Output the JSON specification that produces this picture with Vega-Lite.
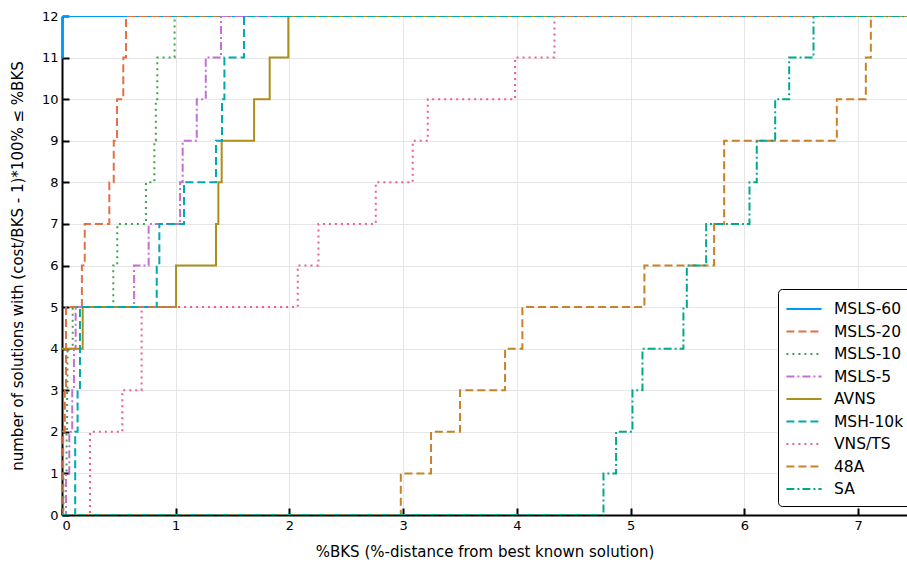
{
  "$schema": "https://vega.github.io/schema/vega-lite/v6.json",
  "autosize": {"type": "none"},
  "padding": {"left": 62, "top": 16, "right": 0, "bottom": 47},
  "width": 845,
  "height": 499,
  "background": "white",
  "config": {
    "font": "DejaVu Sans",
    "view": {"stroke": null},
    "axis": {
      "domainColor": "black",
      "domainWidth": 2,
      "tickColor": "black",
      "tickWidth": 2,
      "tickSize": -7,
      "gridColor": "#e6e6e6",
      "gridWidth": 1,
      "labelFontSize": 13,
      "labelColor": "black",
      "titleFontSize": 15,
      "titleFontWeight": "normal",
      "titleColor": "black"
    }
  },
  "data": {
    "values": [
      {"s": "MSLS-60", "x": 0, "y": 11},
      {"s": "MSLS-60", "x": 0.004, "y": 12},
      {"s": "MSLS-60", "x": 7.43, "y": 12},

      {"s": "MSLS-20", "x": 0, "y": 0},
      {"s": "MSLS-20", "x": 0.01, "y": 2},
      {"s": "MSLS-20", "x": 0.025, "y": 3},
      {"s": "MSLS-20", "x": 0.035, "y": 5},
      {"s": "MSLS-20", "x": 0.175, "y": 6},
      {"s": "MSLS-20", "x": 0.2, "y": 7},
      {"s": "MSLS-20", "x": 0.416, "y": 8},
      {"s": "MSLS-20", "x": 0.455, "y": 9},
      {"s": "MSLS-20", "x": 0.484, "y": 10},
      {"s": "MSLS-20", "x": 0.539, "y": 11},
      {"s": "MSLS-20", "x": 0.563, "y": 12},
      {"s": "MSLS-20", "x": 7.43, "y": 12},

      {"s": "MSLS-10", "x": 0, "y": 0},
      {"s": "MSLS-10", "x": 0.012, "y": 1},
      {"s": "MSLS-10", "x": 0.04, "y": 2},
      {"s": "MSLS-10", "x": 0.045, "y": 3},
      {"s": "MSLS-10", "x": 0.048, "y": 4},
      {"s": "MSLS-10", "x": 0.094, "y": 5},
      {"s": "MSLS-10", "x": 0.451, "y": 6},
      {"s": "MSLS-10", "x": 0.486, "y": 7},
      {"s": "MSLS-10", "x": 0.738, "y": 8},
      {"s": "MSLS-10", "x": 0.812, "y": 9},
      {"s": "MSLS-10", "x": 0.825, "y": 10},
      {"s": "MSLS-10", "x": 0.838, "y": 11},
      {"s": "MSLS-10", "x": 0.99, "y": 12},
      {"s": "MSLS-10", "x": 7.43, "y": 12},

      {"s": "MSLS-5", "x": 0, "y": 0},
      {"s": "MSLS-5", "x": 0.035, "y": 1},
      {"s": "MSLS-5", "x": 0.064, "y": 2},
      {"s": "MSLS-5", "x": 0.09, "y": 3},
      {"s": "MSLS-5", "x": 0.105, "y": 4},
      {"s": "MSLS-5", "x": 0.12, "y": 5},
      {"s": "MSLS-5", "x": 0.634, "y": 6},
      {"s": "MSLS-5", "x": 0.762, "y": 7},
      {"s": "MSLS-5", "x": 1.038, "y": 8},
      {"s": "MSLS-5", "x": 1.061, "y": 9},
      {"s": "MSLS-5", "x": 1.185, "y": 10},
      {"s": "MSLS-5", "x": 1.264, "y": 11},
      {"s": "MSLS-5", "x": 1.398, "y": 12},
      {"s": "MSLS-5", "x": 7.43, "y": 12},

      {"s": "AVNS", "x": 0, "y": 4},
      {"s": "AVNS", "x": 0.182, "y": 5},
      {"s": "AVNS", "x": 1.003, "y": 6},
      {"s": "AVNS", "x": 1.354, "y": 7},
      {"s": "AVNS", "x": 1.375, "y": 8},
      {"s": "AVNS", "x": 1.404, "y": 9},
      {"s": "AVNS", "x": 1.689, "y": 10},
      {"s": "AVNS", "x": 1.826, "y": 11},
      {"s": "AVNS", "x": 1.99, "y": 12},
      {"s": "AVNS", "x": 7.43, "y": 12},

      {"s": "MSH-10k", "x": 0, "y": 0},
      {"s": "MSH-10k", "x": 0.116, "y": 2},
      {"s": "MSH-10k", "x": 0.137, "y": 3},
      {"s": "MSH-10k", "x": 0.158, "y": 5},
      {"s": "MSH-10k", "x": 0.833, "y": 6},
      {"s": "MSH-10k", "x": 0.856, "y": 7},
      {"s": "MSH-10k", "x": 1.073, "y": 8},
      {"s": "MSH-10k", "x": 1.354, "y": 9},
      {"s": "MSH-10k", "x": 1.407, "y": 10},
      {"s": "MSH-10k", "x": 1.428, "y": 11},
      {"s": "MSH-10k", "x": 1.6, "y": 12},
      {"s": "MSH-10k", "x": 7.43, "y": 12},

      {"s": "VNS/TS", "x": 0, "y": 0},
      {"s": "VNS/TS", "x": 0.246, "y": 2},
      {"s": "VNS/TS", "x": 0.53, "y": 3},
      {"s": "VNS/TS", "x": 0.7, "y": 5},
      {"s": "VNS/TS", "x": 2.073, "y": 6},
      {"s": "VNS/TS", "x": 2.255, "y": 7},
      {"s": "VNS/TS", "x": 2.759, "y": 8},
      {"s": "VNS/TS", "x": 3.084, "y": 9},
      {"s": "VNS/TS", "x": 3.216, "y": 10},
      {"s": "VNS/TS", "x": 3.984, "y": 11},
      {"s": "VNS/TS", "x": 4.33, "y": 12},
      {"s": "VNS/TS", "x": 7.43, "y": 12},

      {"s": "48A", "x": 0, "y": 0},
      {"s": "48A", "x": 2.979, "y": 1},
      {"s": "48A", "x": 3.245, "y": 2},
      {"s": "48A", "x": 3.5, "y": 3},
      {"s": "48A", "x": 3.896, "y": 4},
      {"s": "48A", "x": 4.048, "y": 5},
      {"s": "48A", "x": 5.121, "y": 6},
      {"s": "48A", "x": 5.734, "y": 7},
      {"s": "48A", "x": 5.822, "y": 9},
      {"s": "48A", "x": 6.813, "y": 10},
      {"s": "48A", "x": 7.068, "y": 11},
      {"s": "48A", "x": 7.112, "y": 12},
      {"s": "48A", "x": 7.43, "y": 12},

      {"s": "SA", "x": 0, "y": 0},
      {"s": "SA", "x": 4.761, "y": 1},
      {"s": "SA", "x": 4.872, "y": 2},
      {"s": "SA", "x": 5.016, "y": 3},
      {"s": "SA", "x": 5.104, "y": 4},
      {"s": "SA", "x": 5.464, "y": 5},
      {"s": "SA", "x": 5.494, "y": 6},
      {"s": "SA", "x": 5.664, "y": 7},
      {"s": "SA", "x": 6.045, "y": 8},
      {"s": "SA", "x": 6.109, "y": 9},
      {"s": "SA", "x": 6.271, "y": 10},
      {"s": "SA", "x": 6.394, "y": 11},
      {"s": "SA", "x": 6.608, "y": 12},
      {"s": "SA", "x": 7.43, "y": 12}
    ]
  },
  "mark": {"type": "line", "interpolate": "step-after", "strokeWidth": 2, "clip": true},
  "encoding": {
    "x": {
      "field": "x", "type": "quantitative",
      "scale": {"domain": [0, 7.43], "nice": false, "zero": false},
      "axis": {"values": [0, 1, 2, 3, 4, 5, 6, 7], "format": "d", "labelPadding": 11,
               "title": "%BKS (%-distance from best known solution)", "titlePadding": 12}
    },
    "y": {
      "field": "y", "type": "quantitative",
      "scale": {"domain": [0, 12], "nice": false},
      "axis": {"values": [0, 1, 2, 3, 4, 5, 6, 7, 8, 9, 10, 11, 12], "format": "d", "labelPadding": 11,
               "title": "number of solutions with (cost/BKS - 1)*100% ≤ %BKS", "titlePadding": 16}
    },
    "color": {
      "field": "s", "type": "nominal",
      "scale": {
        "domain": ["MSLS-60", "MSLS-20", "MSLS-10", "MSLS-5", "AVNS", "MSH-10k", "VNS/TS", "48A", "SA"],
        "range": ["#009AFA", "#E36F47", "#3EA44E", "#C271D2", "#AC8E18", "#00A9AD", "#ED5E93", "#C68225", "#00A98D"]
      },
      "legend": {
        "title": null,
        "orient": "none",
        "legendX": 716,
        "legendY": 273,
        "fillColor": "white",
        "strokeColor": "black",
        "cornerRadius": 4,
        "padding": 8,
        "labelFontSize": 15.5,
        "labelColor": "black",
        "symbolType": "M-1.6,0H1.6",
        "symbolSize": 484,
        "symbolStrokeWidth": 2,
        "symbolOffset": 6,
        "rowPadding": 1.5,
        "labelOffset": 18
      }
    },
    "strokeDash": {
      "field": "s", "type": "nominal",
      "scale": {
        "domain": ["MSLS-60", "MSLS-20", "MSLS-10", "MSLS-5", "AVNS", "MSH-10k", "VNS/TS", "48A", "SA"],
        "range": [[1, 0], [8, 4], [2, 4], [8, 3, 2, 3], [1, 0], [8, 4], [2, 4], [8, 4], [8, 3, 2, 3]]
      },
      "legend": null
    }
  }
}
